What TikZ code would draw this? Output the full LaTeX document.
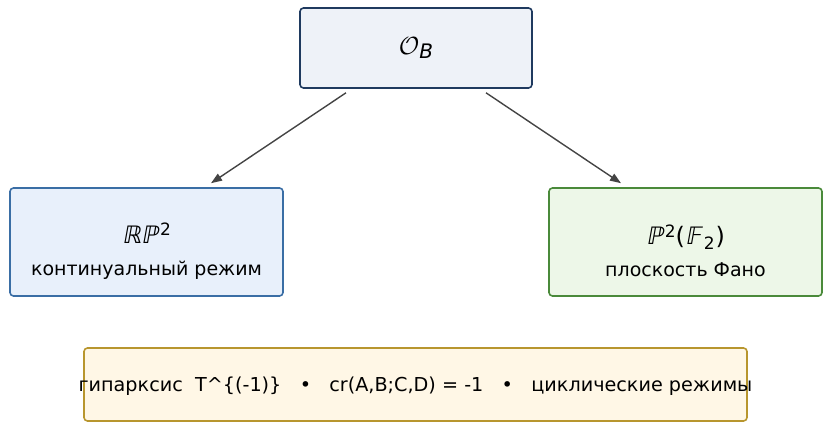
\documentclass[tikz,border=0pt]{standalone}
\usepackage{amssymb}
\usepackage{fontspec}
\setmainfont{DejaVu Sans}
\newfontfamily\bbfont[FakeSlant=0.18]{DejaVu Sans}
\usetikzlibrary{arrows.meta}

\definecolor{rootfill}{HTML}{EEF2F8}
\definecolor{rootdraw}{HTML}{1F3A5F}
\definecolor{realfill}{HTML}{E8F0FB}
\definecolor{realdraw}{HTML}{3A6EA5}
\definecolor{fanofill}{HTML}{EDF7E8}
\definecolor{fanodraw}{HTML}{4A8A3A}
\definecolor{notefill}{HTML}{FFF7E6}
\definecolor{notedraw}{HTML}{B8962E}
\definecolor{arrowgray}{HTML}{444444}

\tikzset{
  box/.style={draw, rounded corners=3.5pt, line width=1.6pt, inner sep=0pt},
  sym/.style={font=\fontsize{24}{28}\selectfont, inner sep=0pt},
  caption/.style={font=\fontsize{19}{22}\selectfont, inner sep=0pt},
  link/.style={-{Triangle[length=11pt,width=8pt]}, arrowgray, line width=1.4pt},
}

\begin{document}
\begin{tikzpicture}[x=1pt, y=-1pt]
  \useasboundingbox (0,0) rectangle (825,427);

  % boxes
  \node[box, fill=rootfill, draw=rootdraw, minimum width=232pt, minimum height=80pt] (root) at (416,48)
    {\fontsize{30}{34}\selectfont $\mathcal{O}$\raisebox{-0.3ex}{\fontsize{20}{24}\selectfont\itshape B}};
  \node[box, fill=realfill, draw=realdraw, minimum width=273pt, minimum height=108pt] (real) at (146.5,242) {};
  \node[box, fill=fanofill, draw=fanodraw, minimum width=273pt, minimum height=108pt] (fano) at (685.5,242) {};
  \node[box, fill=notefill, draw=notedraw, minimum width=663pt, minimum height=73pt] (note) at (415.5,384.5) {};

  % texts
  \node[sym] (realsym) at ([yshift=9pt]real.center)
    {\bbfont ℝℙ\kern2pt\raisebox{0.6ex}{\fontsize{17}{20}\selectfont\rmfamily 2}};
  \node[caption] (reallabel) at ([yshift=-28pt]real.center) {континуальный режим};
  \node[sym] (fanosym) at ([yshift=5pt]fano.center)
    {{\bbfont ℙ}\kern2pt\raisebox{0.6ex}{\fontsize{17}{20}\selectfont 2}({\bbfont 𝔽}\kern2.5pt\raisebox{-0.35ex}{\fontsize{17}{20}\selectfont 2}\kern1pt)};
  \node[caption] (fanolabel) at ([yshift=-28pt]fano.center) {плоскость Фано};
  \node[font=\fontsize{19.2}{22}\selectfont] (notetext) at ([yshift=-1.5pt]note.center)
    {гипарксис\ \ T\^{}\{(-1)\}\ \ \ •\ \ \ cr(A,B;C,D) = -1\ \ \ •\ \ \ циклические режимы};

  % arrows
  \draw[link] ([xshift=-70pt,yshift=-4pt]root.south) -- ([xshift=64.5pt,yshift=4pt]real.north);
  \draw[link] ([xshift=70pt,yshift=-4pt]root.south) -- ([xshift=-64.5pt,yshift=4pt]fano.north);
\end{tikzpicture}
\end{document}
